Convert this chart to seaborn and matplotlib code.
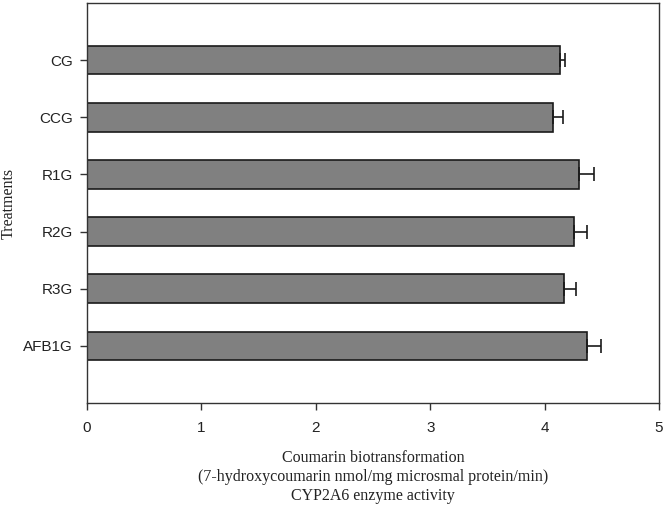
import numpy as np
import pandas as pd
import matplotlib
matplotlib.use('Agg')
import matplotlib.pyplot as plt
import seaborn as sns

# values
treatments = ['CG', 'CCG', 'R1G', 'R2G', 'R3G', 'AFB1G']
activity = [4.13, 4.07, 4.30, 4.26, 4.17, 4.37]
activity_err = [0.05, 0.09, 0.13, 0.11, 0.10, 0.12]
x_ticks = [0, 1, 2, 3, 4, 5]

sns.set_theme(style="white")
plt.rcParams['font.family'] = ['Liberation Sans', 'DejaVu Sans']

df = pd.DataFrame({'treatment': treatments, 'activity': activity})

fig = plt.figure(figsize=(6.66, 5.07), dpi=100)
ax = fig.add_axes([0.1306, 0.205, 0.859, 0.789])

sns.barplot(data=df, x='activity', y='treatment', orient='h', color='#808080',
            saturation=1, edgecolor='#1a1a1a', linewidth=1.2, width=0.5, ax=ax)

# one-sided error bars (positive only)
ax.errorbar(activity, np.arange(len(treatments)),
            xerr=[np.zeros(len(activity_err)), activity_err],
            fmt='none', ecolor='#1a1a1a', elinewidth=1.2, capsize=5, capthick=1.2)

ax.set_xlim(0, 5)
ax.set_ylim(len(treatments), -1)
ax.set_xticks(x_ticks)
ax.set_xticklabels([str(t) for t in x_ticks], fontsize=11, color='#222222')
ax.tick_params(axis='y', labelsize=11, labelcolor='#222222', pad=5)
ax.tick_params(axis='x', pad=8)
ax.tick_params(axis='both', direction='out', length=5, width=1, color='#333333',
               bottom=True, left=True)

for s in ax.spines.values():
    s.set_visible(True)
    s.set_color('#333333')
    s.set_linewidth(1)

serif = ['Liberation Serif', 'DejaVu Serif']
ax.set_xlabel('Coumarin biotransformation\n(7-hydroxycoumarin nmol/mg microsmal protein/min)\nCYP2A6 enzyme activity',
              family=serif, fontsize=11.5, color='#222222',
              labelpad=10.5, linespacing=1.27)
ax.set_ylabel('Treatments', family=serif, fontsize=11.5, color='#222222')
ax.yaxis.set_label_coords(-0.123, 0.5)

fig.savefig('out.png', dpi=100)
plt.close(fig)
